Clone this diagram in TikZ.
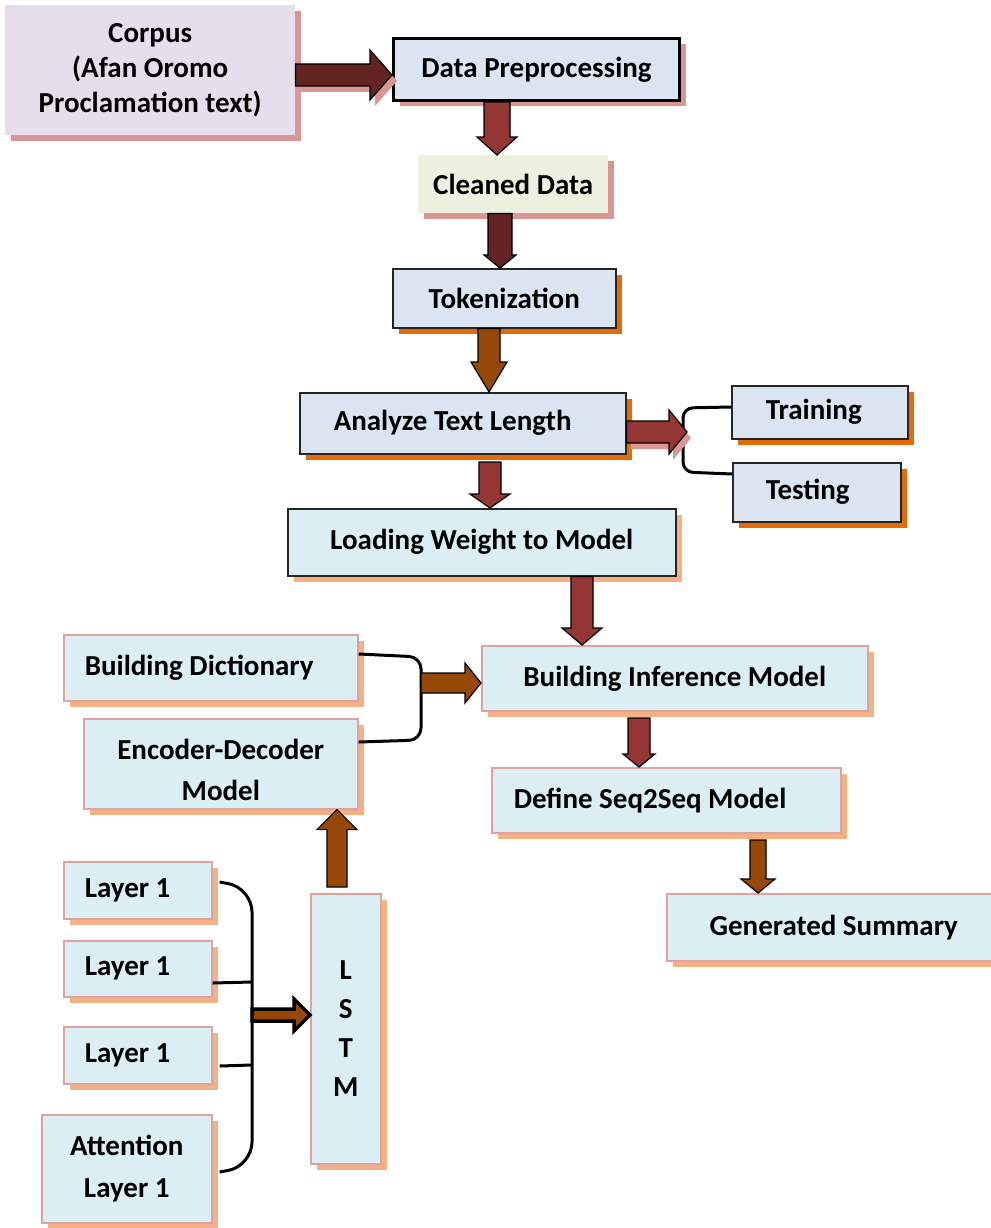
\documentclass[tikz,border=0pt]{standalone}
\usepackage{fontspec}
\setmainfont{Carlito}
\usetikzlibrary{calc,shadows}

\definecolor{arrDark}{HTML}{632523}
\definecolor{arrRed}{HTML}{943634}
\definecolor{arrBrown}{HTML}{974806}
\definecolor{shPink}{HTML}{D99694}
\definecolor{shOrange}{HTML}{E36C09}
\definecolor{shPeach}{HTML}{F4B183}
\definecolor{fLav}{HTML}{E5DFEC}
\definecolor{fBlue}{HTML}{DBE5F1}
\definecolor{fGreen}{HTML}{EBF1DE}
\definecolor{fAqua}{HTML}{DAEEF3}
\definecolor{bdPink}{HTML}{DDA3A2}

\tikzset{
  box/.style={font=\fontsize{29}{35}\selectfont\bfseries, align=center,
    inner sep=0pt, anchor=north west},
  lefttext/.style={align=flush left},
  dropsh/.style={drop shadow={shadow xshift=6pt, shadow yshift=-6pt,
    fill=#1, opacity=1}},
  darkbox/.style={box, draw=black!85, line width=1.5pt, fill=fBlue, dropsh=shOrange},
  aquabox/.style={box, draw=bdPink, line width=1.6pt, fill=fAqua, dropsh=shPeach},
  blk/.style={draw=black, line width=1.2pt, line join=miter, fill=#1},
  blkshadow/.style={fill=shPink, draw=none},
  brace/.style={draw=black, line width=3pt},
}

% vertical block arrow: style, from, to, body half width, head half width, head length
\newcommand\varrow[6]{%
  \draw[#1] let \p1=#2, \p2=#3, \n1={sign(\y2-\y1)} in
    ({\x1-#4},\y1) -- ({\x1+#4},\y1) -- ({\x1+#4},{\y2-\n1*#6})
    -- ({\x1+#5},{\y2-\n1*#6}) -- (\x1,\y2) -- ({\x1-#5},{\y2-\n1*#6})
    -- ({\x1-#4},{\y2-\n1*#6}) -- cycle;}
% horizontal block arrow: style, from, to, body half width, head half width,
% head length, offset (used for the soft shadow copy)
\newcommand\harrowat[8]{%
  \path[#1] let \p1=#2, \p2=#3, \n1={sign(\x2-\x1)}, \p3=#8 in
    ({\x1+\x3},{\y1+#4+\y3}) -- ({\x1+\x3},{\y1-#4+\y3})
    -- ({\x2-\n1*#6+\x3},{\y1-#4+\y3})
    -- ({\x2-\n1*#6+\x3},{\y1-#5+\y3}) -- ({\x2+\x3},{\y1+\y3})
    -- ({\x2-\n1*#6+\x3},{\y1+#5+\y3})
    -- ({\x2-\n1*#6+\x3},{\y1+#4+\y3}) -- cycle;}
\newcommand\harrow[6]{\harrowat{#1}{#2}{#3}{#4}{#5}{#6}{}{(0pt,0pt)}}

\begin{document}
\begin{tikzpicture}[x=1pt,y=-1pt]
\useasboundingbox (0,0) rectangle (990,1228);
\fill[white] (0,0) rectangle (990,1228);

% ---- pipeline boxes ----
\node[box, fill=fLav, dropsh=shPink, minimum width=290, minimum height=130]
  (corpus) at (5,5) {Corpus\\(Afan Oromo\\Proclamation text)};
\node[box, draw=black, line width=3pt, fill=fBlue, dropsh=shPink,
  minimum width=286, minimum height=62] (prep) at (392,37) {Data Preprocessing};
\node[box, fill=fGreen, dropsh=shPink, minimum width=190, minimum height=58]
  (clean) at (418,155) {Cleaned Data};
\node[darkbox, minimum width=223, minimum height=59] (token) at (392,268) {Tokenization};
\node[darkbox, lefttext, text width=258, inner xsep=34, minimum height=61]
  (analyze) at (299,392) {Analyze Text Length};
\node[darkbox, lefttext, text width=108, inner xsep=34, minimum height=53]
  (train) at (731,385) {Training};
\node[darkbox, lefttext, text width=102, inner xsep=33, minimum height=59]
  (test) at (732,462) {Testing};
\node[darkbox, fill=fAqua, dropsh=shPeach, minimum width=388, minimum height=67]
  (load) at (287,508) {Loading Weight to Model};
\node[aquabox, minimum width=386, minimum height=65] (infer) at (481,645)
  {Building Inference Model};
\node[aquabox, lefttext, text width=252, inner xsep=21, minimum height=66]
  (dict) at (63,634) {Building Dictionary};
\node[aquabox, minimum width=274, minimum height=90] (encdec)
  at (83,718) {\rule{0pt}{32pt}Encoder-Decoder\\[6pt]Model};
\node[aquabox, lefttext, text width=305, inner xsep=22, minimum height=65]
  (seq) at (491,767) {Define Seq2Seq Model};
\node[aquabox, minimum width=334, minimum height=67] (summary) at (666,893)
  {Generated Summary};

% ---- LSTM block ----
\node[aquabox, font=\fontsize{29}{39}\selectfont\bfseries, minimum width=70,
  minimum height=270] (lstm) at (310,893) {L\\S\\T\\M};
\node[aquabox, lefttext, text width=106, inner xsep=21, minimum height=57]
  (la) at (63,861) {Layer 1};
\node[aquabox, lefttext, text width=106, inner xsep=21, minimum height=56]
  (lb) at (63,940) {Layer 1};
\node[aquabox, lefttext, text width=106, inner xsep=21, minimum height=57]
  (lc) at (63,1026) {Layer 1};
\node[aquabox, font=\fontsize{29}{42}\selectfont\bfseries, minimum width=170,
  minimum height=108] (att) at (41,1114) {Attention\\Layer 1};

% ---- brackets ----
\draw[brace, rounded corners=10] (train.west |- 0,407) -- (683,408)
  -- (683,472) -- (test.west |- 0,474);
\coordinate (tsplit) at (687,432);
\draw[brace, rounded corners=12] (dict.east |- 0,654) -- (421,657)
  -- (421,740) -- (encdec.east |- 0,742);
\coordinate (dsplit) at (421,683);
\draw[brace, rounded corners=24] ($(la.east |- 0,882)+(7,0)$) -- (252,888)
  -- (252,1166) -- ($(att.east |- 0,1172)+(7,0)$);
\draw[brace] (lb.east |- 0,983) -- (252,982);
\draw[brace] ($(lc.east |- 0,1066)+(7,0)$) -- (252,1065);
\coordinate (lsplit) at (252,1015);

% ---- block arrows ----
\harrowat{blkshadow}{(corpus.east |- 0,75)}{(prep.west |- 0,75)}{11pt}{25pt}{22pt}{}{(5pt,-6pt)}
\harrow{blk=arrDark}{(corpus.east |- 0,75)}{(prep.west |- 0,75)}{11pt}{25pt}{22pt}
\varrow{blk=arrRed}{(497,0 |- prep.south)}{(497,0 |- clean.north)}{13pt}{20pt}{18pt}
\varrow{blk=arrDark}{(500,0 |- clean.south)}{(500,0 |- token.north)}{12pt}{16pt}{13pt}
\varrow{blk=arrBrown}{(489,0 |- token.south)}{(489,0 |- analyze.north)}{11pt}{18pt}{30pt}
\harrowat{blkshadow}{(analyze.east |- 0,432)}{(tsplit)}{11pt}{22pt}{18pt}{}{(4pt,-6pt)}
\harrow{blk=arrRed}{(analyze.east |- 0,432)}{(tsplit)}{11pt}{22pt}{18pt}
\varrow{blk=arrRed}{(490,0 |- 0,462)}{(490,0 |- load.north)}{11pt}{20pt}{14pt}
\varrow{blk=arrRed}{(582,0 |- load.south)}{(582,0 |- infer.north)}{11pt}{20pt}{17pt}
\harrow{blk=arrBrown}{(dsplit)}{(infer.west |- 0,683)}{10pt}{20pt}{16pt}
\varrow{blk=arrRed}{(639,0 |- 0,718)}{(639,0 |- seq.north)}{11pt}{16pt}{13pt}
\varrow{blk=arrBrown}{(758,0 |- 0,840)}{(758,0 |- summary.north)}{8pt}{17pt}{14pt}
\varrow{blk=arrBrown}{(337,0 |- 0,887)}{(337,0 |- encdec.south)}{10pt}{20pt}{20pt}
\harrow{blk=arrBrown, line width=3.5pt}{(lsplit)}{(lstm.west |- 0,1016)}{6pt}{16pt}{16pt}
\end{tikzpicture}
\end{document}
